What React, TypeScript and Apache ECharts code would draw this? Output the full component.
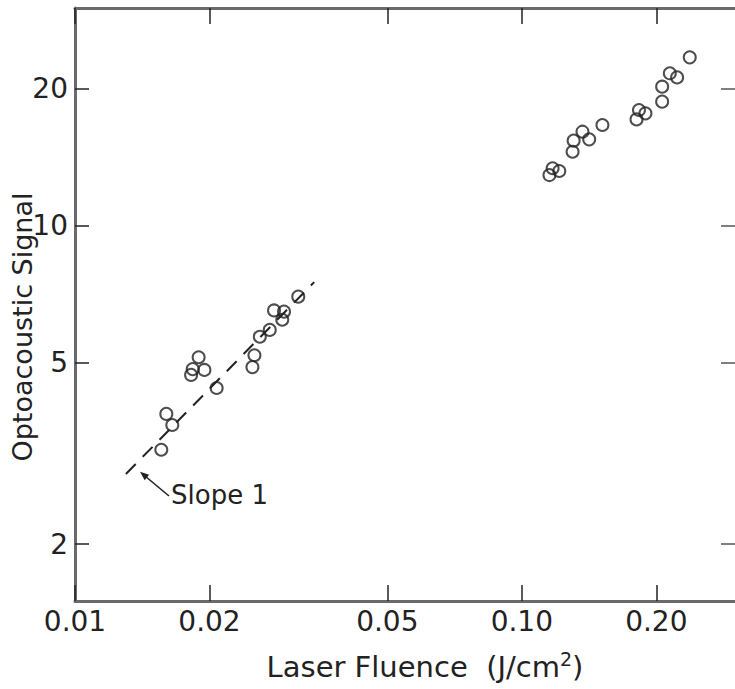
import React, { useEffect, useRef } from "react";
import * as echarts from "echarts";

const lowFluence = [0.0156, 0.01651, 0.01601, 0.01819, 0.01834, 0.01891, 0.01948, 0.02075, 0.02495, 0.02521, 0.02592, 0.02728, 0.02789, 0.02936, 0.0291, 0.0316];
const lowSignal = [3.22, 3.65, 3.86, 4.7, 4.84, 5.14, 4.82, 4.4, 4.89, 5.19, 5.7, 5.9, 6.51, 6.47, 6.21, 6.98];
const highFluence = [0.1153, 0.1172, 0.1213, 0.1299, 0.1306, 0.1367, 0.1415, 0.1515, 0.1806, 0.1829, 0.1891, 0.2061, 0.2061, 0.2144, 0.2226, 0.2376];
const highSignal = [12.9, 13.35, 13.17, 14.51, 15.35, 16.06, 15.45, 16.61, 17.09, 17.92, 17.62, 18.69, 20.16, 21.57, 21.13, 23.38];
const slopeFluence = [0.013, 0.0343];
const slopeSignal = [2.85, 7.51];
const xTickValues = [0.01, 0.02, 0.05, 0.1, 0.2];
const xTickLabels = ["0.01", "0.02", "0.05", "0.10", "0.20"];
const yTickValues = [2, 5, 10, 20];
const yTickLabels = ["2", "5", "10", "20"];

const FONT = "DejaVu Sans";
const INK = "#222";

function labelFor(values: number[], labels: string[]) {
  return (v: number) => {
    const i = values.findIndex((t) => Math.abs(t - v) / t < 1e-6);
    return i >= 0 ? labels[i] : "";
  };
}

export default function App() {
  const ref = useRef<HTMLDivElement>(null);
  useEffect(() => {
    if (!ref.current) return;
    const chart = echarts.init(ref.current, null, { renderer: "svg" });
    const axisLine = { show: true, lineStyle: { color: "#6a6a6a", width: 3 } };
    const xBase = {
      type: "log" as const,
      min: 0.01,
      max: 0.3,
      splitLine: { show: false },
      minorTick: { show: false },
      axisLine,
    };
    const yBase = {
      type: "log" as const,
      min: 1.5,
      max: 30,
      splitLine: { show: false },
      minorTick: { show: false },
    };
    const scatterStyle = {
      type: "scatter" as const,
      symbol: "circle",
      symbolSize: 12,
      itemStyle: { color: "transparent", borderColor: INK, borderWidth: 2 },
    };
    chart.setOption({
      animation: false,
      backgroundColor: "#fff",
      grid: { left: 75, right: -3, top: 8, bottom: 88, containLabel: false },
      xAxis: [
        {
          ...xBase,
          position: "bottom",
          axisTick: { show: true, inside: true, length: 16, lineStyle: { color: INK, width: 1.5 }, customValues: xTickValues },
          axisLabel: {
            show: true,
            customValues: xTickValues,
            formatter: labelFor(xTickValues, xTickLabels),
            fontFamily: FONT,
            fontSize: 28,
            color: INK,
            margin: 6,
          },
        },
        {
          ...xBase,
          position: "top",
          axisTick: { show: true, inside: true, length: 16, lineStyle: { color: INK, width: 1.5 }, customValues: xTickValues },
          axisLabel: { show: false },
        },
      ],
      yAxis: [
        {
          ...yBase,
          position: "left",
          axisLine,
          axisTick: { show: true, inside: true, length: 14, lineStyle: { color: INK, width: 1.5 }, customValues: yTickValues },
          axisLabel: {
            show: true,
            customValues: yTickValues,
            formatter: labelFor(yTickValues, yTickLabels),
            fontFamily: FONT,
            fontSize: 28,
            color: INK,
            margin: 7,
          },
        },
        {
          ...yBase,
          position: "right",
          axisLine: { show: false },
          axisTick: { show: true, inside: true, length: 14, lineStyle: { color: "#555", width: 1.5 }, customValues: yTickValues },
          axisLabel: { show: false },
        },
      ],
      series: [
        {
          type: "line",
          data: slopeFluence.map((x, i) => [x, slopeSignal[i]]),
          symbol: "none",
          lineStyle: { color: INK, width: 2, type: [14, 10] },
          z: 1,
        },
        { ...scatterStyle, data: lowFluence.map((x, i) => [x, lowSignal[i]]), z: 3 },
        { ...scatterStyle, data: highFluence.map((x, i) => [x, highSignal[i]]), z: 3 },
      ],
      graphic: [
        {
          type: "text",
          x: 22,
          y: 327,
          rotation: Math.PI / 2,
          style: {
            text: "Optoacoustic Signal",
            fontFamily: FONT,
            fontSize: 27,
            fill: INK,
            align: "center",
            verticalAlign: "middle",
          },
        },
        {
          type: "text",
          x: 425,
          y: 667,
          style: {
            text: "Laser Fluence  (J/cm{sup|2})",
            fontFamily: FONT,
            fontSize: 29,
            lineHeight: 36,
            fill: INK,
            align: "center",
            verticalAlign: "middle",
            rich: {
              sup: { fontFamily: FONT, fontSize: 19, lineHeight: 19, verticalAlign: "top", fill: INK },
            },
          },
        },
        {
          type: "text",
          x: 171,
          y: 495,
          style: {
            text: "Slope 1",
            fontFamily: FONT,
            fontSize: 26,
            fill: INK,
            align: "left",
            verticalAlign: "middle",
          },
        },
        {
          type: "line",
          shape: { x1: 169, y1: 496, x2: 145, y2: 476 },
          style: { stroke: INK, lineWidth: 1.6 },
        },
        {
          type: "polygon",
          shape: { points: [[140, 471.7], [149.1, 474.8], [144.7, 480.2]] },
          style: { fill: INK },
        },
      ],
    });
    return () => chart.dispose();
  }, []);
  return (
    <div
      ref={ref}
      style={{ position: "absolute", left: 0, top: 0, width: 735, height: 689, background: "#fff" }}
    />
  );
}
